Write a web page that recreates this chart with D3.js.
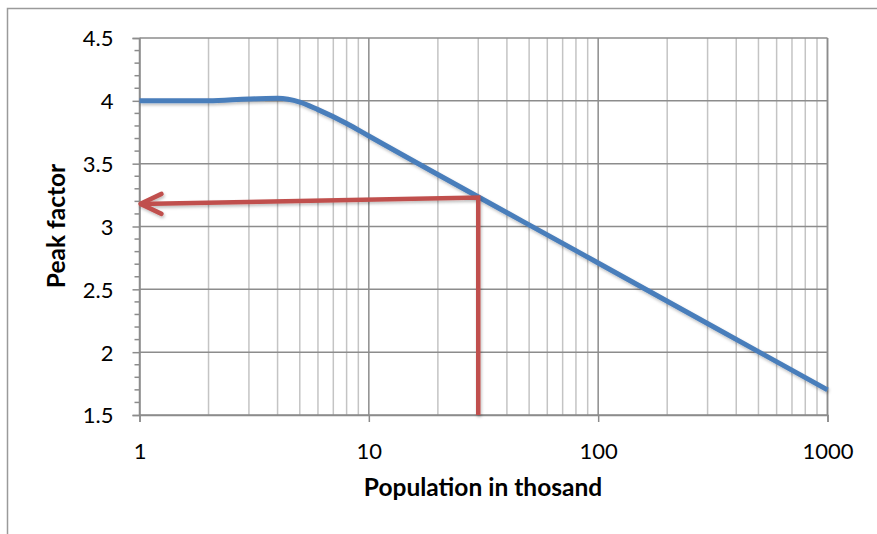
<!DOCTYPE html>
<html>
<head>
<meta charset="utf-8">
<script src="https://cdn.jsdelivr.net/npm/d3@7"></script>
<style>
  body { margin: 0; background: #fff; }
  svg { display: block; }
</style>
</head>
<body>
<div id="chart"></div>
<script>
// data
const popThousand = [1, 2, 3, 4, 5, 6, 8, 10, 100, 1000];
const peakFactor = [4.0, 4.0, 4.015, 4.02, 3.99, 3.93, 3.82, 3.72, 2.71, 1.70];

const arrowX = [30, 30, 1];
const arrowY = [1.5, 3.23, 3.18];

const xTicks = [1, 10, 100, 1000];
const yTicks = [1.5, 2, 2.5, 3, 3.5, 4, 4.5];

const width = 877, height = 534;
const margin = { top: 38, right: 50, bottom: 119, left: 139.5 };
const innerW = 827.5 - margin.left;
const innerH = 415 - margin.top;

const C_BLUE = "#4a7ebb";
const C_RED = "#c0504d";
const FONT = "Lato, 'Open Sans', sans-serif";

const svg = d3.select("#chart").append("svg")
  .attr("width", width).attr("height", height);

// outer chart frame
svg.append("path")
  .attr("d", `M7.5,${height} V8.5 H${width}`)
  .attr("fill", "none").attr("stroke", "#9a9a9a").attr("stroke-width", 1.5);

const defs = svg.append("defs");
const shadow = defs.append("filter").attr("id", "shadow")
  .attr("x", "-10%").attr("y", "-10%").attr("width", "120%").attr("height", "130%");
shadow.append("feDropShadow").attr("dx", 1).attr("dy", 2).attr("stdDeviation", 1.5)
  .attr("flood-color", "#000").attr("flood-opacity", 0.25);

const g = svg.append("g").attr("transform", `translate(${margin.left},${margin.top})`);

const x = d3.scaleLog().domain([1, 1000]).range([0, innerW]);
const y = d3.scaleLinear().domain([1.5, 4.5]).range([innerH, 0]);

// minor vertical grid (2..9 in each decade)
const minorX = x.ticks().filter(v => !xTicks.includes(v));
g.append("g").selectAll("line").data(minorX).join("line")
  .attr("x1", d => x(d)).attr("x2", d => x(d))
  .attr("y1", 0).attr("y2", innerH)
  .attr("stroke", "#c4c4c4").attr("stroke-width", 1.5);

// major vertical grid
g.append("g").selectAll("line").data(xTicks).join("line")
  .attr("x1", d => x(d)).attr("x2", d => x(d))
  .attr("y1", 0).attr("y2", innerH)
  .attr("stroke", "#8c8c8c").attr("stroke-width", 1.5);

// horizontal grid
g.append("g").selectAll("line").data(yTicks).join("line")
  .attr("x1", 0).attr("x2", innerW)
  .attr("y1", d => y(d)).attr("y2", d => y(d))
  .attr("stroke", "#8c8c8c").attr("stroke-width", 1.5);

// right border of plot
g.append("line")
  .attr("x1", innerW).attr("x2", innerW).attr("y1", 0).attr("y2", innerH)
  .attr("stroke", "#8c8c8c").attr("stroke-width", 1.5);

// y axis
const yAxis = g.append("g")
  .call(d3.axisLeft(y).tickValues(yTicks).tickSize(7).tickFormat(d3.format("")));
yAxis.attr("font-size", null).attr("font-family", null);
yAxis.select(".domain").attr("stroke", "#8c8c8c").attr("stroke-width", 1.5);
yAxis.selectAll(".tick line").attr("stroke", "#8c8c8c").attr("stroke-width", 1.5);
yAxis.selectAll(".tick text")
  .attr("x", -26).attr("dy", "0.36em")
  .style("font-family", FONT).style("font-size", "22px").style("fill", "#000");

// y minor ticks
const yMinor = d3.range(1.6, 4.5, 0.1).filter(v => Math.abs(v * 2 - Math.round(v * 2)) > 1e-6);
g.append("g").selectAll("line").data(yMinor).join("line")
  .attr("x1", -5).attr("x2", 0)
  .attr("y1", d => y(d)).attr("y2", d => y(d))
  .attr("stroke", "#8c8c8c").attr("stroke-width", 1.5);

// x axis
const xAxis = g.append("g").attr("transform", `translate(0,${innerH})`)
  .call(d3.axisBottom(x).tickValues(xTicks).tickSize(7).tickFormat(d3.format("d")));
xAxis.attr("font-size", null).attr("font-family", null);
xAxis.select(".domain").attr("stroke", "#8c8c8c").attr("stroke-width", 1.5);
xAxis.selectAll(".tick line").attr("stroke", "#8c8c8c").attr("stroke-width", 1.5);
xAxis.selectAll(".tick text")
  .attr("y", 44).attr("dy", 0)
  .style("font-family", FONT).style("font-size", "22px").style("fill", "#000");

// blue curve
const curve = popThousand.map((p, i) => ({ p, v: peakFactor[i] }));
g.append("path").datum(curve)
  .attr("d", d3.line().x(d => x(d.p)).y(d => y(d.v)).curve(d3.curveMonotoneX))
  .attr("fill", "none").attr("stroke", C_BLUE).attr("stroke-width", 5)
  .attr("filter", "url(#shadow)");

// red reading arrow
const arrow = arrowX.map((p, i) => ({ p, v: arrowY[i] }));
const arrowG = g.append("g").attr("filter", "url(#shadow)");
arrowG.append("path").datum(arrow)
  .attr("d", d3.line().x(d => x(d.p)).y(d => y(d.v)))
  .attr("fill", "none").attr("stroke", C_RED).attr("stroke-width", 4.5)
  .attr("stroke-linejoin", "miter");
const tip = arrow[arrow.length - 1];
const tx = x(tip.p) + 1, ty = y(tip.v);
arrowG.append("path")
  .attr("d", `M${tx + 21},${ty - 10} L${tx},${ty} L${tx + 21},${ty + 10}`)
  .attr("fill", "none").attr("stroke", C_RED).attr("stroke-width", 4.5)
  .attr("stroke-linecap", "round").attr("stroke-linejoin", "round");

// axis titles
svg.append("text")
  .attr("x", 483).attr("y", 496).attr("text-anchor", "middle")
  .style("font-family", FONT).style("font-size", "24.5px").style("font-weight", "bold")
  .text("Population in thosand");

svg.append("text")
  .attr("transform", `translate(65,226) rotate(-90)`)
  .attr("text-anchor", "middle")
  .style("font-family", FONT).style("font-size", "24.5px").style("font-weight", "bold")
  .text("Peak factor");
</script>
</body>
</html>
